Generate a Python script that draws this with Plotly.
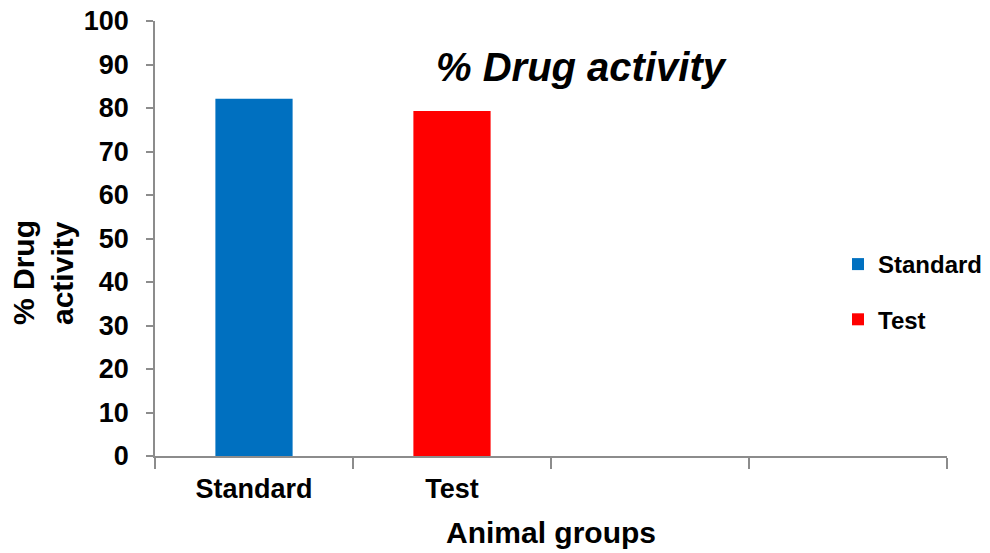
import plotly.graph_objects as go

categories = ["Standard", "Test", " ", "  "]
series_names = ["Standard", "Test"]
series_values = [82.1, 79.3]
series_colors = ["#0070C0", "#FF0000"]
y_ticks = [0, 10, 20, 30, 40, 50, 60, 70, 80, 90, 100]

FONT = "Liberation Sans, Arial, sans-serif"

fig = go.Figure()
for i, (name, val, col) in enumerate(zip(series_names, series_values, series_colors)):
    fig.add_trace(go.Bar(
        x=[categories[i]], y=[val], name=name,
        marker=dict(color=col, line=dict(width=0)),
        width=0.39, legendgroup=name,
    ))

fig.update_layout(
    width=990, height=553,
    margin=dict(l=155, r=43, t=21, b=97, autoexpand=False),
    paper_bgcolor="white", plot_bgcolor="white",
    barmode="overlay",
    font=dict(family=FONT, color="black"),
    showlegend=True,
    legend=dict(
        x=(838 - 155) / 792, xanchor="left",
        y=(456 - 242) / 435, yanchor="top",
        font=dict(size=24, family=FONT, color="black", weight="bold"),
        tracegroupgap=21, bgcolor="rgba(0,0,0,0)",
    ),
    xaxis=dict(
        type="category", categoryorder="array", categoryarray=categories,
        range=[-0.5, 3.5], tickson="boundaries", automargin=False,
        showline=True, linecolor="#8c8c8c", linewidth=1.5,
        ticks="outside", ticklen=11, tickcolor="#8c8c8c", tickwidth=1.5,
        tickfont=dict(size=27, family=FONT, color="black", weight="bold"),
        showgrid=False, zeroline=False, ticklabelstandoff=8,
    ),
    yaxis=dict(
        range=[0, 100], tickvals=y_ticks, automargin=False,
        showline=True, linecolor="#8c8c8c", linewidth=1.5,
        ticks="outside", ticklen=7, tickcolor="#8c8c8c", tickwidth=1.5,
        tickfont=dict(size=27, family=FONT, color="black", weight="bold"),
        showgrid=False, zeroline=False, ticklabelstandoff=12,
    ),
)

fig.add_annotation(
    text="% Drug activity", xref="paper", yref="paper",
    x=(581 - 155) / 792, y=(456 - 67) / 435, xanchor="center", yanchor="middle",
    showarrow=False,
    font=dict(size=40, family=FONT, color="black", weight="bold", style="italic"),
)
fig.add_annotation(
    text="Animal groups", xref="paper", yref="paper",
    x=0.5, y=(456 - 532) / 435, xanchor="center", yanchor="middle",
    showarrow=False,
    font=dict(size=30, family=FONT, color="black", weight="bold"),
)
fig.add_annotation(
    text="% Drug<br>activity", xref="paper", yref="paper",
    x=(43 - 155) / 792, y=(456 - 273) / 435, xanchor="center", yanchor="middle",
    showarrow=False, textangle=-90, align="left",
    font=dict(size=30, family=FONT, color="black", weight="bold"),
)

fig.write_html("out.html")
